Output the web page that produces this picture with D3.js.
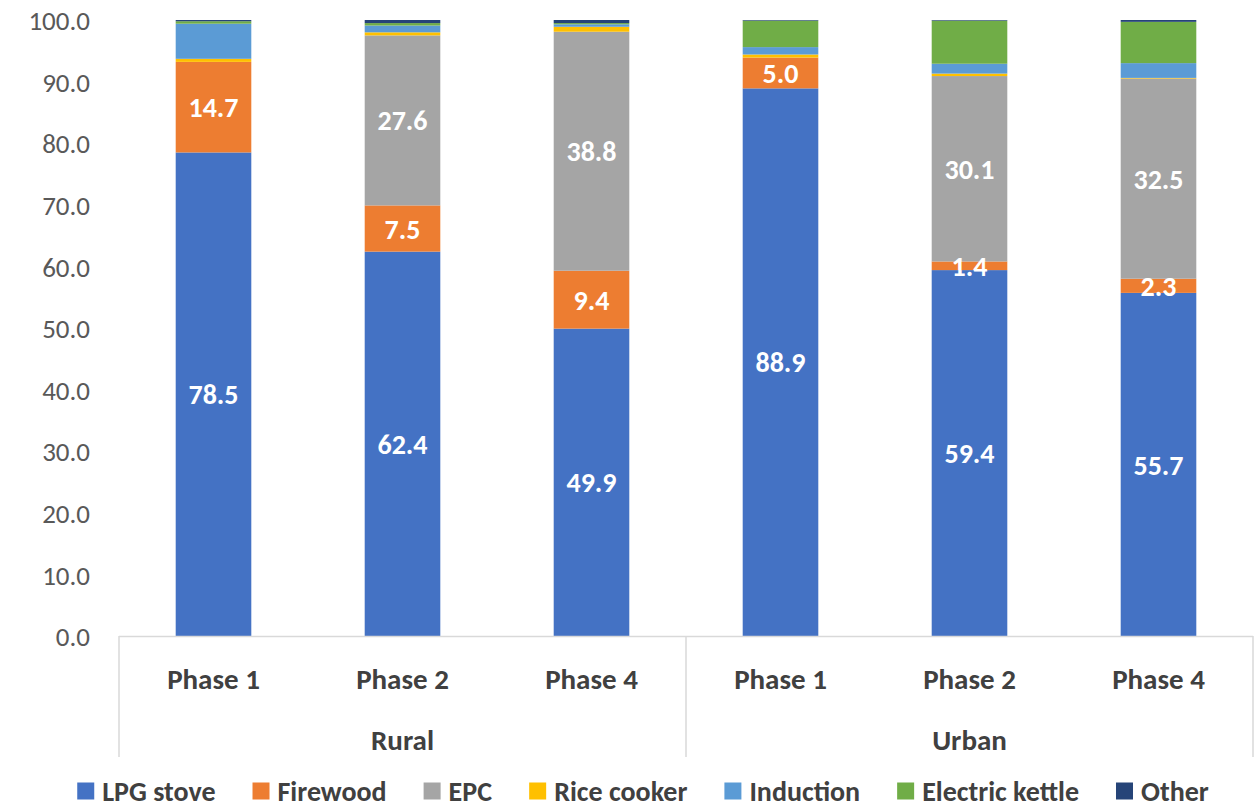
<!DOCTYPE html>
<html>
<head>
<meta charset="utf-8">
<script src="https://cdn.jsdelivr.net/npm/d3@7"></script>
<style>
  html, body { margin: 0; padding: 0; background: #fff; }
  svg { display: block; font-family: Carlito, Lato, "Noto Sans", sans-serif; }
</style>
</head>
<body>
<svg id="chart" width="1258" height="808"></svg>
<script>
// Cooking appliance shares (%) by area and survey phase
const groups = ["Rural", "Urban"];
const phases = ["Phase 1", "Phase 2", "Phase 4"];
const seriesNames = ["LPG stove", "Firewood", "EPC", "Rice cooker", "Induction", "Electric kettle", "Other"];
const seriesColors = ["#4472C4", "#ED7D31", "#A5A5A5", "#FFC000", "#5B9BD5", "#70AD47", "#264478"];

// one entry per bar: Rural P1, P2, P4, Urban P1, P2, P4
const lpgStove       = [78.5, 62.4, 49.9, 88.9, 59.4, 55.7];
const firewood       = [14.7,  7.5,  9.4,  5.0,  1.4,  2.3];
const epc            = [ 0.0, 27.6, 38.8,  0.0, 30.1, 32.5];
const riceCooker     = [ 0.5,  0.5,  0.8,  0.5,  0.4,  0.1];
const induction      = [ 5.7,  1.1,  0.4,  1.2,  1.6,  2.4];
const electricKettle = [ 0.4,  0.4,  0.2,  4.3,  7.0,  6.7];
const other          = [ 0.2,  0.5,  0.5,  0.1,  0.1,  0.3];

// series that carry value labels
const labelledSeries = ["LPG stove", "Firewood", "EPC"];
const yTicks = [0, 10, 20, 30, 40, 50, 60, 70, 80, 90, 100];

const seriesValues = [lpgStove, firewood, epc, riceCooker, induction, electricKettle, other];
const bars = [];
groups.forEach((g, gi) => phases.forEach((p, pi) => {
  const idx = gi * phases.length + pi;
  const row = { key: g + "|" + p, group: g, phase: p };
  seriesNames.forEach((s, si) => row[s] = seriesValues[si][idx]);
  bars.push(row);
}));

const svg = d3.select("#chart");
const plotLeft = 119, plotRight = 1253, plotTop = 20, plotBottom = 636;
const textCol = "#404040";

const x = d3.scaleBand()
  .domain(bars.map(d => d.key))
  .range([plotLeft, plotRight])
  .paddingInner(0.6)
  .paddingOuter(0.3);

const y = d3.scaleLinear().domain([0, 100]).range([plotBottom, plotTop]);
const color = d3.scaleOrdinal().domain(seriesNames).range(seriesColors);

const stacked = d3.stack().keys(seriesNames)(bars);

// stacked bars
const layers = svg.append("g").selectAll("g")
  .data(stacked).join("g")
  .attr("fill", d => color(d.key));

layers.selectAll("rect")
  .data(d => d.map(v => Object.assign(v, { series: d.key })))
  .join("rect")
  .attr("x", d => x(d.data.key))
  .attr("width", x.bandwidth())
  .attr("y", d => y(d[1]))
  .attr("height", d => Math.max(0, y(d[0]) - y(d[1])));

// value labels
const labelData = [];
stacked.forEach(layer => {
  if (!labelledSeries.includes(layer.key)) return;
  layer.forEach(v => {
    const val = v.data[layer.key];
    if (val > 0) labelData.push({ key: v.data.key, mid: (v[0] + v[1]) / 2, val });
  });
});
svg.append("g").selectAll("text")
  .data(labelData).join("text")
  .attr("x", d => x(d.key) + x.bandwidth() / 2)
  .attr("y", d => y(d.mid))
  .attr("dy", "0.36em")
  .attr("text-anchor", "middle")
  .attr("fill", "#ffffff")
  .attr("font-weight", "bold")
  .attr("font-size", 28)
  .text(d => d3.format(".1f")(d.val));

// y axis labels
const yAxis = svg.append("g")
  .attr("transform", `translate(${plotLeft - 29},0)`)
  .call(d3.axisLeft(y).tickValues(yTicks).tickFormat(d3.format(".1f")).tickSize(0).tickPadding(0));
yAxis.select(".domain").remove();
yAxis.selectAll("text")
  .attr("dy", "0.36em")
  .attr("font-size", 27)
  .attr("fill", "#595959")
  .attr("font-family", "Carlito, Lato, sans-serif");

// category axis: baseline and group separators
const axisCol = "#d9d9d9";
const axisBottom = 757;
svg.append("line")
  .attr("x1", plotLeft).attr("x2", plotRight)
  .attr("y1", plotBottom + 0.5).attr("y2", plotBottom + 0.5)
  .attr("stroke", axisCol).attr("stroke-width", 1.5);

const groupEdges = [plotLeft];
groups.forEach((g, gi) => {
  const lastKey = g + "|" + phases[phases.length - 1];
  groupEdges.push(gi === groups.length - 1 ? plotRight : x(lastKey) + x.bandwidth() + x.step() * 0.3);
});
svg.append("g").selectAll("line")
  .data(groupEdges).join("line")
  .attr("x1", d => d).attr("x2", d => d)
  .attr("y1", plotBottom).attr("y2", axisBottom)
  .attr("stroke", axisCol).attr("stroke-width", 1.5);

// phase labels
svg.append("g").selectAll("text")
  .data(bars).join("text")
  .attr("x", d => x(d.key) + x.bandwidth() / 2)
  .attr("y", 679)
  .attr("dy", "0.36em")
  .attr("text-anchor", "middle")
  .attr("font-size", 29)
  .attr("font-weight", "bold")
  .attr("fill", textCol)
  .text(d => d.phase);

// group labels
svg.append("g").selectAll("text")
  .data(groups).join("text")
  .attr("x", (g, i) => (groupEdges[i] + groupEdges[i + 1]) / 2)
  .attr("y", 740)
  .attr("dy", "0.36em")
  .attr("text-anchor", "middle")
  .attr("font-size", 29)
  .attr("font-weight", "bold")
  .attr("fill", textCol)
  .text(d => d);

// legend
const legend = svg.append("g");
const swatch = 17, swatchGap = 8, itemGap = 37;
let cursor = 0;
const items = legend.selectAll("g").data(seriesNames).join("g");
items.append("rect")
  .attr("width", swatch).attr("height", swatch)
  .attr("y", -swatch / 2)
  .attr("fill", d => color(d));
items.append("text")
  .attr("x", swatch + swatchGap)
  .attr("dy", "0.36em")
  .attr("font-size", 28)
  .attr("font-weight", "bold")
  .attr("fill", textCol)
  .text(d => d);
items.each(function () {
  const w = this.getBBox().width;
  d3.select(this).attr("transform", `translate(${cursor},0)`);
  cursor += w + itemGap;
});
const legendWidth = cursor - itemGap;
legend.attr("transform", `translate(${643 - legendWidth / 2},791)`);
</script>
</body>
</html>
